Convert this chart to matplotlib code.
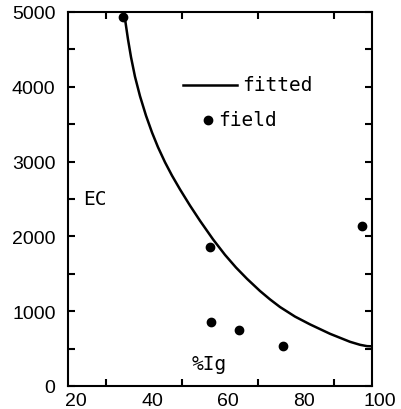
import matplotlib
matplotlib.use("Agg")
import matplotlib.pyplot as plt
import matplotlib.transforms as mtransforms
import numpy as np

# field measurements (%Ig, EC)
field_x = [34.4, 57.4, 57.6, 65.1, 76.5, 97.3]
field_y = [4930, 1855, 860, 755, 540, 2135]

# fitted curve
fit_x = [34.76, 35.0, 35.79, 36.58, 37.63, 38.95, 40.53, 42.11, 43.68, 45.53,
         47.37, 49.47, 52.11, 54.74, 58.16, 61.32, 64.21, 67.11, 70.53, 73.16,
         75.79, 79.74, 83.68, 88.95, 94.21, 96.84, 98.68, 99.74]
fit_y = [5000, 4907, 4634, 4397, 4135, 3875, 3614, 3389, 3193, 2991,
         2813, 2629, 2412, 2209, 1961, 1753, 1584, 1433, 1270, 1158,
         1056, 928, 824, 698, 591, 551, 533, 531]

x_ticks = [20, 40, 60, 80, 100]
y_ticks = [0, 1000, 2000, 3000, 4000, 5000]

fig = plt.figure(figsize=(4.02, 4.10), dpi=100)
ax = fig.add_axes([68/402, 23/410, 304/402, 374/410])

ax.plot(fit_x, fit_y, color="black", lw=1.8, solid_joinstyle="round")
ax.plot(field_x, field_y, "o", color="black", ms=6, clip_on=False)

ax.set_xlim(20, 100)
ax.set_ylim(0, 5000)

for s in ax.spines.values():
    s.set_linewidth(1.5)

ax.set_xticks(x_ticks)
ax.set_xticks(np.arange(30, 100, 10), minor=True)
ax.set_yticks(y_ticks)
ax.set_yticks(np.arange(500, 5000, 1000), minor=True)
ax.tick_params(which="both", direction="in", top=True, right=True, width=1.5, length=5)
ax.tick_params(axis="y", which="major", labelsize=14, pad=9)
ax.tick_params(axis="x", which="major", length=0, labelsize=14, pad=4)

# x labels sit a little right of their ticks in the original
shift = mtransforms.ScaledTranslation(8/100, 0, fig.dpi_scale_trans)
for lab in ax.get_xticklabels():
    lab.set_transform(lab.get_transform() + shift)
for lab in ax.get_xticklabels() + ax.get_yticklabels():
    lab.set_family("Liberation Sans")

# typewriter labels inside the frame
mono = dict(family="DejaVu Sans Mono", fontsize=14, va="center", ha="left")
ax.plot([0.378, 0.556], [0.805, 0.805], color="black", lw=1.8, transform=ax.transAxes)
ax.text(0.572, 0.805, "fitted", transform=ax.transAxes, **mono)
ax.plot([0.461], [0.712], "o", color="black", ms=6, transform=ax.transAxes)
ax.text(0.493, 0.712, "field", transform=ax.transAxes, **mono)
ax.text(0.049, 0.50, "EC", transform=ax.transAxes, **mono)
ax.text(0.408, 0.059, "%Ig", transform=ax.transAxes, **mono)

fig.savefig("out.png", dpi=100)
